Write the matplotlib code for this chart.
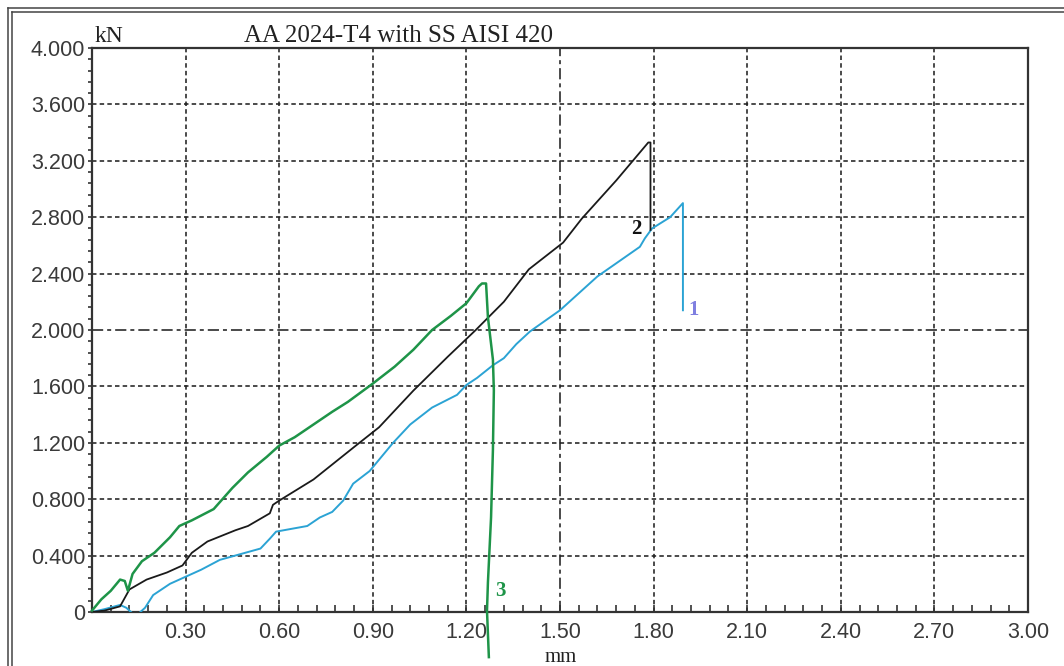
import numpy as np
import matplotlib
matplotlib.use('Agg')
from matplotlib import pyplot as plt
from matplotlib.lines import Line2D
from matplotlib.ticker import MultipleLocator, FixedLocator

#%% data (mm, kN)
x1 = [0, 0.04, 0.09, 0.11, 0.13, 0.15, 0.17, 0.196, 0.25, 0.29, 0.35, 0.41, 0.54, 0.57,
      0.59, 0.69, 0.73, 0.77, 0.805, 0.837, 0.89, 0.965, 1.02, 1.09, 1.17, 1.2, 1.234,
      1.285, 1.32, 1.36, 1.404, 1.5, 1.62, 1.756, 1.772, 1.795, 1.853, 1.894, 1.894]
y1 = [0, 0.02, 0.05, 0.03, -0.01, -0.01, 0.03, 0.12, 0.2, 0.24, 0.30, 0.37, 0.45, 0.52,
      0.57, 0.61, 0.67, 0.71, 0.79, 0.91, 1.0, 1.2, 1.33, 1.45, 1.54, 1.61, 1.66,
      1.75, 1.80, 1.90, 1.99, 2.14, 2.38, 2.59, 2.65, 2.72, 2.80, 2.90, 2.14]

x2 = [0, 0.04, 0.09, 0.11, 0.12, 0.175, 0.24, 0.29, 0.32, 0.37, 0.46, 0.5, 0.57, 0.58,
      0.6, 0.71, 0.84, 0.92, 1.03, 1.14, 1.23, 1.32, 1.40, 1.51, 1.57, 1.68, 1.783,
      1.79, 1.79]
y2 = [0, 0.01, 0.04, 0.12, 0.16, 0.23, 0.28, 0.33, 0.42, 0.5, 0.58, 0.61, 0.70, 0.76,
      0.79, 0.94, 1.17, 1.31, 1.57, 1.81, 2.0, 2.2, 2.43, 2.62, 2.79, 3.06, 3.33,
      3.33, 2.71]

x3 = [0, 0.03, 0.06, 0.09, 0.105, 0.115, 0.13, 0.16, 0.2, 0.25, 0.28, 0.32, 0.39, 0.45,
      0.5, 0.56, 0.6, 0.65, 0.71, 0.77, 0.82, 0.9, 0.97, 1.03, 1.09, 1.15, 1.2, 1.24,
      1.25, 1.263, 1.269, 1.285, 1.288, 1.285, 1.279, 1.269, 1.266, 1.272]
y3 = [0.01, 0.09, 0.15, 0.23, 0.22, 0.15, 0.27, 0.36, 0.42, 0.53, 0.61, 0.65, 0.73, 0.88,
      0.99, 1.10, 1.18, 1.24, 1.33, 1.42, 1.49, 1.62, 1.74, 1.86, 2.0, 2.10, 2.19, 2.31,
      2.33, 2.33, 2.09, 1.79, 1.57, 1.15, 0.67, 0.21, 0.01, -0.32]

xticks = [0.30, 0.60, 0.90, 1.20, 1.50, 1.80, 2.10, 2.40, 2.70, 3.00]
yticks = [0, 0.4, 0.8, 1.2, 1.6, 2.0, 2.4, 2.8, 3.2, 3.6, 4.0]
ylabels = ['0', '0.400', '0.800', '1.200', '1.600', '2.000', '2.400', '2.800',
           '3.200', '3.600', '4.000']
xlabels = ['%.2f' % v for v in xticks]

curve_labels = ['1', '2', '3']
label_pos = [(1.929, 2.14), (1.744, 2.716), (1.308, 0.15)]

c_blue = '#2ba3d4'
c_black = '#1a1a1a'
c_green = '#1e9448'

#%% figure
fig = plt.figure(figsize=(10.64, 6.66), dpi=100)
ax = fig.add_axes([92/1064, 1 - 612/666, (1028-92)/1064, (612-48)/666])

# grid (dash-dot at 1.50 and 2.000)
dash = (0, (2.8, 2.0))
dashdot = (0, (7, 2.5, 2.5, 2.5))
for v in xticks:
    ax.axvline(v, color='#222222', lw=1.15, ls=dashdot if v == 1.50 else dash, zorder=1)
for v in yticks[1:]:
    ax.axhline(v, color='#222222', lw=1.15, ls=dashdot if v == 2.0 else dash, zorder=1)

ax.plot(x1, y1, color=c_blue, lw=1.4, zorder=3)
ax.plot(x2, y2, color=c_black, lw=1.3, zorder=4)
ax.plot(x3, y3, color=c_green, lw=1.8, zorder=5, clip_on=False)

cols = ['#7f7fe0', '#111111', c_green]
for t, (px, py), c in zip(curve_labels, label_pos, cols):
    ax.text(px, py, t, color=c, fontsize=15, fontweight='bold',
            family='Liberation Serif', ha='center', va='center')

ax.set_xlim(0, 3.0)
ax.set_ylim(0, 4.0)

ax.xaxis.set_major_locator(FixedLocator(xticks))
ax.set_xticklabels(xlabels)
ax.xaxis.set_minor_locator(MultipleLocator(0.06))
ax.yaxis.set_major_locator(FixedLocator(yticks))
ax.set_yticklabels(ylabels)
ax.yaxis.set_minor_locator(MultipleLocator(0.08))

ax.tick_params(axis='x', which='both', direction='in', length=5, width=1.2,
               color='#333333', pad=7)
ax.tick_params(axis='y', which='both', direction='out', length=3, width=1.2,
               color='#333333', pad=2)
for lab in ax.get_xticklabels() + ax.get_yticklabels():
    lab.set_family('Liberation Sans')
    lab.set_fontsize(15.5)
    lab.set_color('#3a3a3a')

for s in ax.spines.values():
    s.set_linewidth(1.6)
    s.set_color('#333333')

fig.text(95/1064, 1 - 36/666, 'kN', family='Liberation Serif', fontsize=17,
         va='center', ha='left', color='#222222')
fig.text(398/1064, 1 - 36/666, 'AA 2024-T4 with SS AISI 420', family='Liberation Serif',
         fontsize=18, va='center', ha='center', color='#222222')
fig.text(561/1064, 1 - 657/666, 'mm', family='Liberation Serif', fontsize=15,
         va='center', ha='center', color='#222222')

# double frame around the picture (left and top edges visible)
for off in [8, 12]:
    fig.add_artist(Line2D([off/1064, off/1064], [0, 1 - off/666],
                          transform=fig.transFigure, color='#444444', lw=1.1))
    fig.add_artist(Line2D([off/1064, 1], [1 - off/666, 1 - off/666],
                          transform=fig.transFigure, color='#444444', lw=1.1))

fig.savefig('out.png', dpi=100, facecolor='white')
